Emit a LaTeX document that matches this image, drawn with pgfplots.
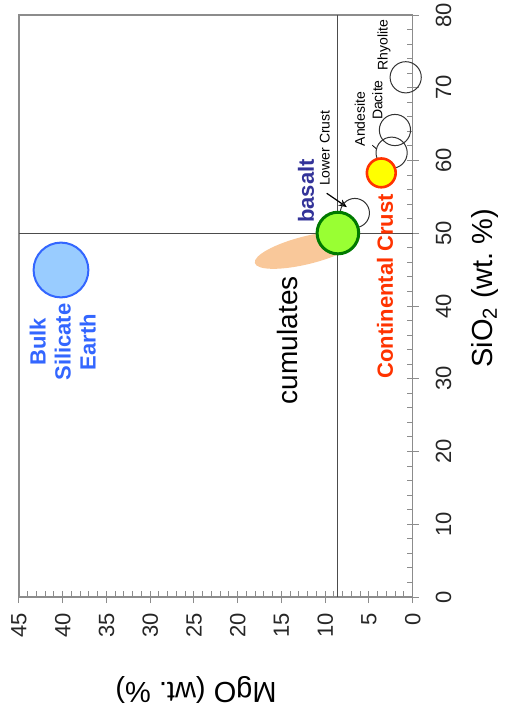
\documentclass[border=0pt]{standalone}
\usepackage{fontspec}
\setmainfont{Liberation Sans}
\usepackage{pgfplots}
\pgfplotsset{compat=1.18}
\usetikzlibrary{arrows.meta}

\definecolor{axgray}{HTML}{8C8C8C}
\definecolor{bseblue}{HTML}{3366FF}
\definecolor{bsefill}{HTML}{99CCFF}
\definecolor{basfill}{HTML}{99FF33}
\definecolor{basedge}{HTML}{007A00}
\definecolor{ccred}{HTML}{FF3300}
\definecolor{ccfill}{HTML}{FFFF00}
\definecolor{cumfill}{HTML}{F9C89A}
\definecolor{basaltblue}{HTML}{333399}

% rotated ellipse used as the mark of the cumulates field
\pgfdeclareplotmark{cumell}{%
  \pgfpathellipse{\pgfpointorigin}{\pgfpoint{26.2pt}{6.53pt}}{\pgfpoint{-1.69pt}{6.79pt}}%
  \pgfusepathqfill}

\begin{document}
\begin{tikzpicture}
\begin{axis}[
  at={(0,0)}, anchor=south west,
  width=196.85pt, height=291pt, scale only axis,
  xmin=0, xmax=45, x dir=reverse,
  ymin=0, ymax=80,
  xtick={0,5,...,45}, ytick={0,10,...,80},
  minor x tick num=4, minor y tick num=4,
  xtick pos=bottom, ytick pos=right,
  tick align=inside, major tick length=3pt, minor tick length=3pt,
  extra x ticks={0,5,...,45}, extra x tick labels={},
  extra y ticks={0,10,...,80}, extra y tick labels={},
  extra tick style={tick align=outside, major tick length=3pt},
  axis line style={axgray, line width=0.6pt},
  tick style={axgray, line width=0.5pt},
  ticklabel style={font=\fontsize{11}{13}\selectfont, text=black!85},
  xticklabel style={rotate=90, anchor=east},
  yticklabel style={rotate=90, anchor=north},
  xticklabel shift=4.5pt, yticklabel shift=8pt,
  /pgf/number format/assume math mode=true,
  clip=false,
]
% reference lines
\addplot[draw=black!70, line width=0.6pt] coordinates {(8.55,0) (8.55,80)};
\addplot[draw=black!70, line width=0.6pt] coordinates {(0,50) (45,50)};
% cumulates field
\addplot[only marks, mark=cumell, color=cumfill] coordinates {(12.05,47.7)};
% open circles: lower crust, andesite, dacite, rhyolite
\addplot[only marks, mark=o, mark size=7.3pt, mark options={draw=black!80, line width=0.5pt}] coordinates {(6.61,52.78)};
\addplot[only marks, mark=o, mark size=7.8pt, mark options={draw=black!80, line width=0.5pt}] coordinates {(2.41,61.07) (2.03,64.19) (0.80,71.44)};
% bulk silicate earth
\addplot[only marks, mark=*, mark size=13.7pt, mark options={draw=bseblue, fill=bsefill, line width=1pt}] coordinates {(40.2,44.95)};
% basalt
\addplot[only marks, mark=*, mark size=10.4pt, mark options={draw=basedge, fill=basfill, line width=1.5pt}] coordinates {(8.55,50.03)};
% continental crust
\addplot[only marks, mark=*, mark size=7.2pt, mark options={draw=ccred, fill=ccfill, line width=1.3pt}] coordinates {(3.59,58.3)};
% arrow and connector
\addplot[black, line width=0.6pt, -{Stealth[length=4pt,width=3.5pt]}] coordinates {(9.83,55.5) (7.53,53.6)};
\addplot[black, line width=0.4pt] coordinates {(4.62,62.1) (4.09,61.55)};

\node[rotate=90, text=bseblue, font=\fontsize{11}{12.5}\selectfont\bfseries, align=center] at (axis cs:40,35.05) {Bulk\\Silicate\\Earth};
\node[rotate=90, font=\fontsize{14}{16}\selectfont] at (axis cs:14.3,35.3) {cumulates};
\node[rotate=90, text=basaltblue, font=\fontsize{11}{13}\selectfont\bfseries] at (axis cs:12.2,55.8) {basalt};
\node[rotate=90, font=\fontsize{7}{8}\selectfont] at (axis cs:10.05,61.7) {Lower Crust};
\node[rotate=90, font=\fontsize{7}{8}\selectfont] at (axis cs:6.04,65.7) {Andesite};
\node[rotate=90, font=\fontsize{7}{8}\selectfont] at (axis cs:4.03,68.3) {Dacite};
\node[rotate=90, font=\fontsize{7}{8}\selectfont] at (axis cs:3.29,75.9) {Rhyolite};
\node[rotate=90, text=ccred, font=\fontsize{11}{13}\selectfont\bfseries] at (axis cs:3.17,42.7) {Continental Crust};
\end{axis}
\node[rotate=180, font=\fontsize{14.5}{16}\selectfont] at (88.5pt,-46.5pt) {MgO (wt.\ \%)};
\node[rotate=90, font=\fontsize{14.5}{16}\selectfont] at (233pt,154.5pt) {SiO\textsubscript{2} (wt.\ \%)};
\pgfresetboundingbox
\path (-9.5pt,-58pt) rectangle (242.5pt,298.5pt);
\end{tikzpicture}
\end{document}
